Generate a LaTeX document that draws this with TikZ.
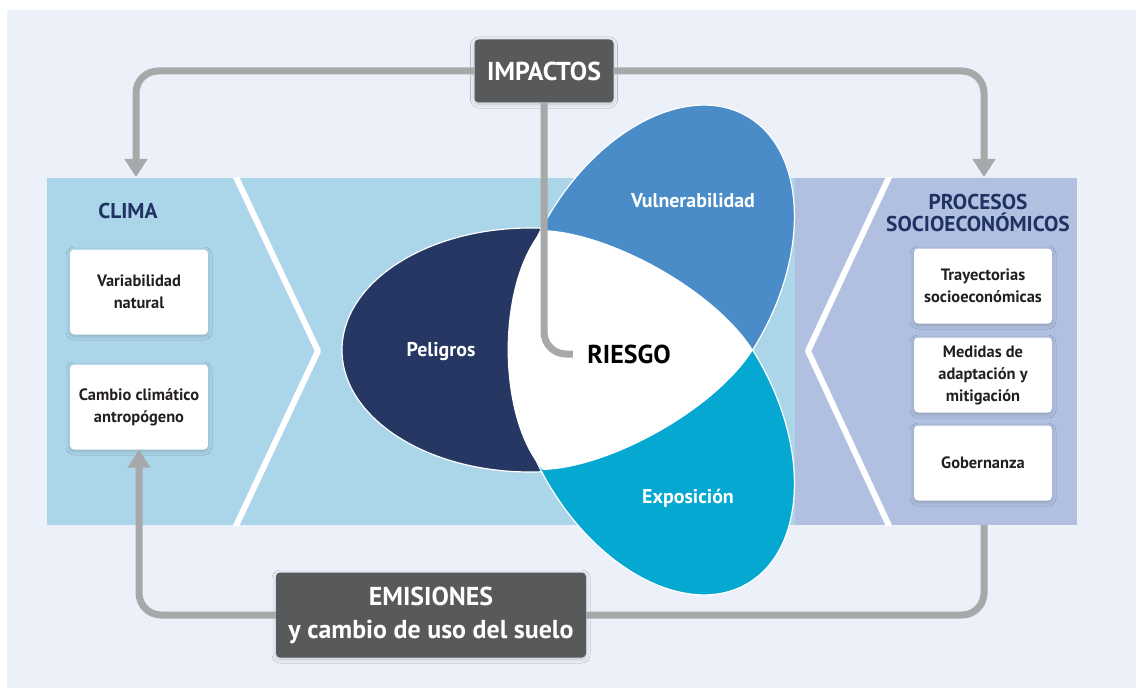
\documentclass[tikz,border=0pt]{standalone}
\usepackage{fontspec}
\setmainfont{PT Sans}
\usetikzlibrary{arrows.meta}
\usetikzlibrary{shadows.blur}

\definecolor{bgpale}{HTML}{ECF1F9}
\definecolor{bandblue}{HTML}{ABD5E9}
\definecolor{bandlav}{HTML}{B1C0E1}
\definecolor{peligro}{HTML}{253762}
\definecolor{vulner}{HTML}{4A8CC8}
\definecolor{exposi}{HTML}{05A8D0}
\definecolor{boxdark}{HTML}{58595B}
\definecolor{linkgray}{HTML}{A7A8AA}
\definecolor{titlenavy}{HTML}{1F3262}
\definecolor{boxtext}{HTML}{231F20}

\begin{document}
\begin{tikzpicture}[x=1bp,y=-1bp,
    softshadow/.style={blur shadow={shadow xshift=0bp,shadow yshift=-1.5bp,shadow blur radius=4bp,shadow opacity=20}},
    itembox/.style={fill=white,rounded corners=4bp,minimum width=138bp,inner sep=2bp,align=center,
        text=boxtext,font=\bfseries\fontsize{16.5}{22}\selectfont,softshadow},
    keybox/.style={fill=boxdark,rounded corners=4bp,align=center,text=white,
        font=\bfseries\fontsize{26}{33}\selectfont,softshadow},
    paneltitle/.style={text=titlenavy,align=center,font=\bfseries\fontsize{21.5}{22}\selectfont},
    petal/.style={draw=white,line width=1.2bp},
    petaltext/.style={text=white,font=\bfseries\fontsize{20}{24}\selectfont},
    chevron/.style={draw=white,line width=6bp,line join=round},
    link/.style={draw=linkgray,line width=7bp,rounded corners=22bp},
    tip/.style={-{Triangle[width=22bp,length=18bp]}}]
    \useasboundingbox (0,0) rectangle (1136,688);
    \fill[bgpale] (7,10) rectangle (1136,688);%

    % band
    \fill[bandblue] (47,178) rectangle (795,525);%
    \fill[bandlav] (795,178) rectangle (1077,525);%
    \begin{scope}
        \clip (47,178) rectangle (1077,525);
        \draw[chevron] (235,175) -- (318,351) -- (235,528);%
        \draw[chevron] (890,175) -- (808,351) -- (890,528);%
    \end{scope}

    % petals
    \filldraw[fill=peligro,petal] (530,350) ellipse [x radius=188bp,y radius=122bp];%
    \filldraw[fill=vulner,petal,rotate around={60:(653,279)}] (653,279) ellipse [x radius=188bp,y radius=122bp];%
    \begin{scope}
        \clip (300,350) rectangle (850,620);
        \filldraw[fill=exposi,petal,rotate around={-60:(653,421)}] (653,421) ellipse [x radius=188bp,y radius=122bp];%
    \end{scope}
    \fill[white] (542,230) .. controls (610,232) and (715,290) .. (753,350)
        .. controls (715,410) and (610,468) .. (543,470)
        .. controls (497,420) and (495,285) .. (542,230) -- cycle;%

    \node[petaltext] (peligros) at (441,352) {Peligros};
    \node[petaltext] (vulnera) at (693,201) {Vulnerabilidad};
    \node[petaltext] (exposic) at (688,498) {Exposición};
    \node[text=black,font=\bfseries\fontsize{26}{30}\selectfont] (riesgo) at (629,354) {RIESGO};

    % side panels
    \node[paneltitle] (clima) at (128,211) {CLIMA};
    \node[itembox,minimum height=85bp] (varnat) at (139,292) {Variabilidad\\natural};
    \node[itembox,minimum height=85bp] (cambio) at (139,407) {Cambio climático\\antropógeno};

    \node[paneltitle] (procesos) at (978,213) {PROCESOS\\SOCIOECONÓMICOS};
    \node[itembox,minimum height=75bp] (trayec) at (983,286) {Trayectorias\\socioeconómicas};
    \node[itembox,minimum height=75bp] (medidas) at (983,375) {Medidas de\\adaptación y\\mitigación};
    \node[itembox,minimum height=75bp] (gobern) at (983,463) {Gobernanza};

    % keys and loops
    \node[keybox,minimum width=139bp,minimum height=63bp] (impactos) at (544,71) {IMPACTOS};
    \node[keybox,minimum width=310bp,minimum height=85bp] (emisiones) at (431,615) {EMISIONES\\y cambio de uso del suelo};

    \coordinate (climatop) at (136,177);
    \coordinate (procstop) at (984,177);
    \coordinate (procsbot) at (984,525);

    \draw[link,tip] (impactos.west) -| (climatop);
    \draw[link,tip] (impactos.east) -| (procstop);
    \draw[link] (impactos.south) |- ([xshift=-11bp]riesgo.west);
    \draw[link,tip] (emisiones.west) -| (cambio.south);
    \draw[link] (emisiones.east) -| (procsbot);
\end{tikzpicture}
\end{document}
